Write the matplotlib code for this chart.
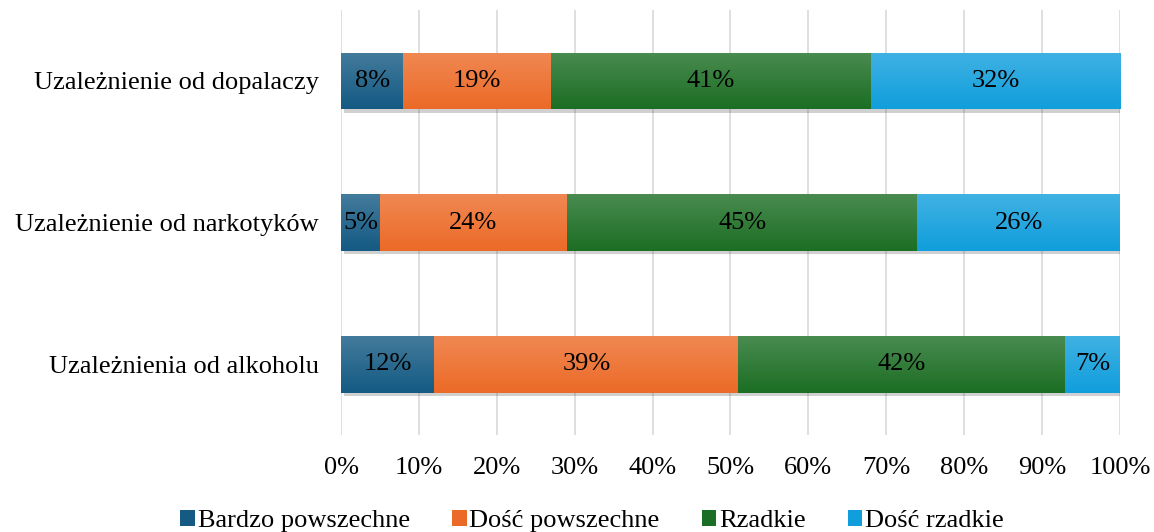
import matplotlib.pyplot as plt
import matplotlib.patheffects as pe
from matplotlib.colors import LinearSegmentedColormap, to_rgb
from matplotlib.patches import Patch
import numpy as np

plt.rcParams['font.family'] = ['Liberation Serif', 'DejaVu Serif']

categories = ["Uzależnienia od alkoholu", "Uzależnienie od narkotyków", "Uzależnienie od dopalaczy"]
series = ["Bardzo powszechne", "Dość powszechne", "Rzadkie", "Dość rzadkie"]
bardzo_powszechne = [12, 5, 8]
dosc_powszechne = [39, 24, 19]
rzadkie = [42, 45, 41]
dosc_rzadkie = [7, 26, 32]
values = [bardzo_powszechne, dosc_powszechne, rzadkie, dosc_rzadkie]
colors = ['#145a83', '#ec6a27', '#1c6e24', '#109edc']


def lighten(c, f):
    r = np.array(to_rgb(c))
    return tuple(r + (1 - r) * f)


fig = plt.figure(figsize=(11.54, 5.32), dpi=100)
ax = fig.add_axes([0.2955, 0.182, 0.675, 0.799])

y = np.arange(len(categories))
left = np.zeros(len(categories))
handles = []
for name, vals, col in zip(series, values, colors):
    bars = ax.barh(y, vals, 0.4, left=left, color=col, zorder=3,
                   path_effects=[pe.SimplePatchShadow(offset=(2, -2.5), alpha=0.25, shadow_rgbFace='#444444'),
                                 pe.Normal()])
    cmap = LinearSegmentedColormap.from_list('g', [lighten(col, 0.2), col])
    grad = np.linspace(0, 1, 64).reshape(-1, 1)
    for b, v in zip(bars, vals):
        x0, y0 = b.get_x(), b.get_y()
        w, h = b.get_width(), b.get_height()
        im = ax.imshow(grad, cmap=cmap, aspect='auto', extent=(x0, x0 + w, y0, y0 + h),
                       origin='upper', zorder=4)
        im.set_clip_path(b)
        ax.text(x0 + w / 2, y0 + h / 2, f"{v}%", ha='center', va='center',
                fontsize=19, color='black', zorder=5)
    left += np.array(vals)
    handles.append(Patch(facecolor=col, label=name))

ax.set_xlim(0, 100)
ax.set_ylim(-0.5, len(categories) - 0.5)
ax.set_xticks(np.arange(0, 101, 10))
ax.set_xticklabels([f"{t}%" for t in range(0, 101, 10)], fontsize=19)
ax.set_yticks(y)
ax.set_yticklabels(categories, fontsize=19)
ax.tick_params(axis='y', length=0, pad=16)
ax.tick_params(axis='x', length=0, pad=16)
ax.grid(axis='x', color='#d9d9d9', linewidth=1.2, zorder=0)
for s in ax.spines.values():
    s.set_visible(False)

fig.legend(handles=handles, loc='lower center', bbox_to_anchor=(0.513, -0.045), ncol=4, frameon=False,
           fontsize=19, handlelength=0.55, handleheight=0.55, handletextpad=0.1,
           columnspacing=1.6)

fig.savefig('out.png', dpi=100)
